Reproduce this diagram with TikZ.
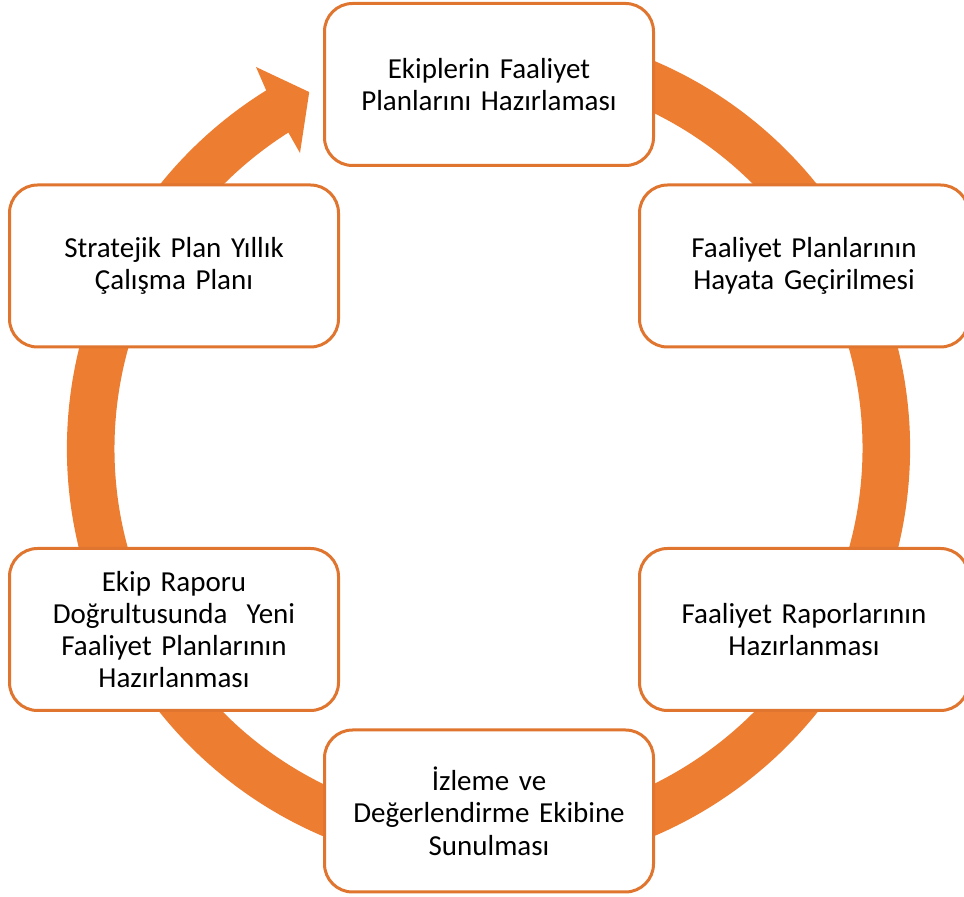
\documentclass[tikz,border=0pt]{standalone}
\usepackage{fontspec}
\setmainfont{Carlito}
\usetikzlibrary{calc}
\definecolor{arrowc}{HTML}{ED7D31}
\definecolor{borderc}{HTML}{DF752F}
\tikzset{
  stagebox/.style={draw=borderc, line width=3pt, fill=white, rounded corners=28pt,
    minimum width=329pt, minimum height=162pt, align=center, inner sep=0pt,
    font=\fontsize{29}{32.3}\selectfont, text width=320pt}
}
\begin{document}
\begin{tikzpicture}[x=1pt,y=1pt]
\useasboundingbox (0,0) rectangle (964,897);
\coordinate (C) at (488.5,448.5);
% ring arrow
\fill[arrowc] ($(C)+(75:421.5)$) arc[start angle=75, end angle=-238.17, radius=421.5]
  -- ($(C)+(121.36:446.8)$) -- ($(C)+(116.7:399)$) -- ($(C)+(122.54:350.5)$)
  -- ($(C)+(122.35:374)$) arc[start angle=-237.65, end angle=75, radius=374] -- cycle;
% boxes
\node[stagebox] (top) at (489,812.5) {Ekiplerin Faaliyet\\Planlarını Hazırlaması};
\node[stagebox] (ru) at (804,631) {Faaliyet Planlarının\\Hayata Geçirilmesi};
\node[stagebox] (rl) at (804,267.5) {Faaliyet Raporlarının\\Hazırlanması};
\node[stagebox] (bot) at (489,86) {İzleme ve\\Değerlendirme Ekibine\\Sunulması};
\node[stagebox] (ll) at (174,267.5) {Ekip Raporu\\Doğrultusunda~~Yeni\\Faaliyet Planlarının\\Hazırlanması};
\node[stagebox] (lu) at (174,631) {Stratejik Plan Yıllık\\Çalışma Planı};
\end{tikzpicture}
\end{document}
